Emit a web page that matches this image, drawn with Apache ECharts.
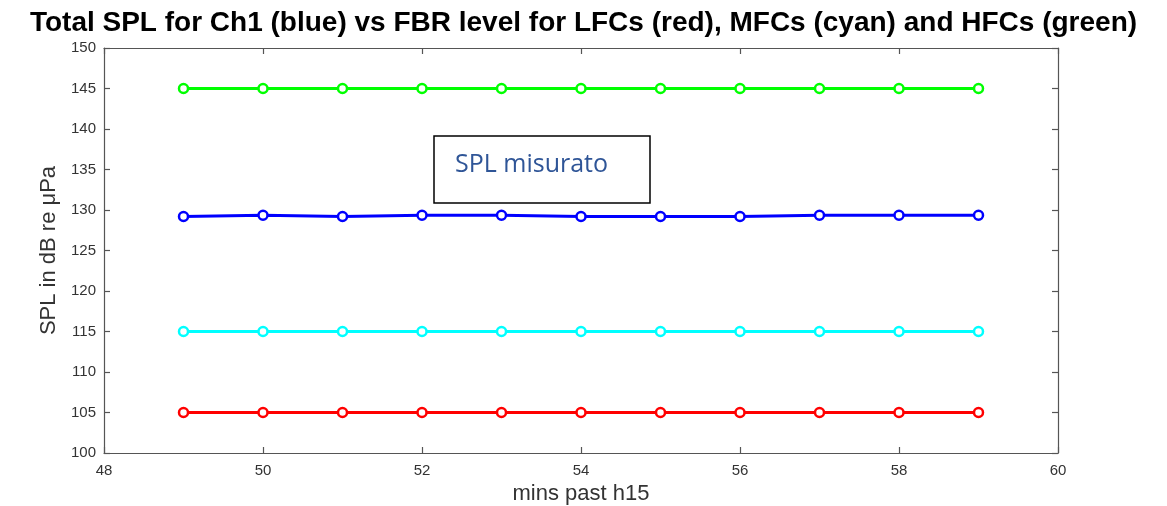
<!DOCTYPE html>
<html>
<head>
<meta charset="utf-8">
<script src="https://cdn.jsdelivr.net/npm/echarts@6/dist/echarts.min.js"></script>
<style>
  html, body { margin: 0; padding: 0; background: #fff; }
  #chart { width: 1167px; height: 506px; }
</style>
</head>
<body>
<div id="chart"></div>
<script>
const minutes = [49, 50, 51, 52, 53, 54, 55, 56, 57, 58, 59]
const splCh1 = [129.2, 129.35, 129.2, 129.35, 129.35, 129.2, 129.2, 129.2, 129.35, 129.35, 129.35]
const fbrLfc = [105, 105, 105, 105, 105, 105, 105, 105, 105, 105, 105]
const fbrMfc = [115, 115, 115, 115, 115, 115, 115, 115, 115, 115, 115]
const fbrHfc = [145, 145, 145, 145, 145, 145, 145, 145, 145, 145, 145]

const pairs = vals => minutes.map((m, i) => [m, vals[i]])

const chart = echarts.init(document.getElementById('chart'))

const axisFont = { color: '#333', fontSize: 15, fontFamily: 'Liberation Sans' }
const lineStyle = { color: '#555', width: 1.2 }

const mkSeries = (name, color, vals) => ({
  name,
  type: 'line',
  data: pairs(vals),
  symbol: 'circle',
  symbolSize: 9,
  itemStyle: { color: '#fff', borderColor: color, borderWidth: 2.5 },
  lineStyle: { color, width: 3 },
  z: 3,
})

const option = {
  animation: false,
  title: {
    text: 'Total SPL for Ch1 (blue) vs FBR level for LFCs (red), MFCs (cyan) and HFCs (green)',
    left: 'center',
    top: 4,
    textStyle: { fontFamily: 'Liberation Sans', fontWeight: 'bold', fontSize: 28, color: '#000' },
  },
  grid: { left: 104, right: 109, top: 48, bottom: 53, show: false, outerBoundsMode: 'none' },
  xAxis: [
    {
      type: 'value', min: 48, max: 60, interval: 2, position: 'bottom',
      name: 'mins past h15', nameLocation: 'middle', nameGap: 26,
      nameTextStyle: { fontFamily: 'Liberation Sans', fontSize: 22, color: '#333' },
      axisLine: { show: true, lineStyle },
      axisTick: { show: true, inside: true, length: 6, lineStyle },
      axisLabel: { ...axisFont, margin: 10 },
      splitLine: { show: false },
    },
    {
      type: 'value', min: 48, max: 60, interval: 2, position: 'top',
      axisLine: { show: true, lineStyle },
      axisTick: { show: true, inside: true, length: 6, lineStyle },
      axisLabel: { show: false },
      splitLine: { show: false },
    },
  ],
  yAxis: [
    {
      type: 'value', min: 100, max: 150, interval: 5, position: 'left',
      name: 'SPL in dB re μPa', nameLocation: 'middle', nameGap: 40,
      nameTextStyle: { fontFamily: 'Liberation Sans', fontSize: 22, color: '#333' },
      axisLine: { show: true, lineStyle },
      axisTick: { show: true, inside: true, length: 6, lineStyle },
      axisLabel: { ...axisFont, margin: 8 },
      splitLine: { show: false },
    },
    {
      type: 'value', min: 100, max: 150, interval: 5, position: 'right',
      axisLine: { show: true, lineStyle },
      axisTick: { show: true, inside: true, length: 6, lineStyle },
      axisLabel: { show: false },
      splitLine: { show: false },
    },
  ],
  series: [
    mkSeries('HFCs', '#00ff00', fbrHfc),
    mkSeries('Ch1', '#0000ff', splCh1),
    mkSeries('MFCs', '#00ffff', fbrMfc),
    mkSeries('LFCs', '#ff0000', fbrLfc),
  ],
  graphic: [
    {
      type: 'rect',
      shape: { x: 434, y: 136, width: 216, height: 67 },
      style: { fill: '#fff', stroke: '#000', lineWidth: 1.5 },
      z: 10,
    },
    {
      type: 'text',
      x: 455, y: 152,
      style: { text: 'SPL misurato', fill: '#2f5597', font: '25px "Open Sans", "Noto Sans", sans-serif' },
      z: 11,
    },
  ],
}

chart.setOption(option)
</script>
</body>
</html>
